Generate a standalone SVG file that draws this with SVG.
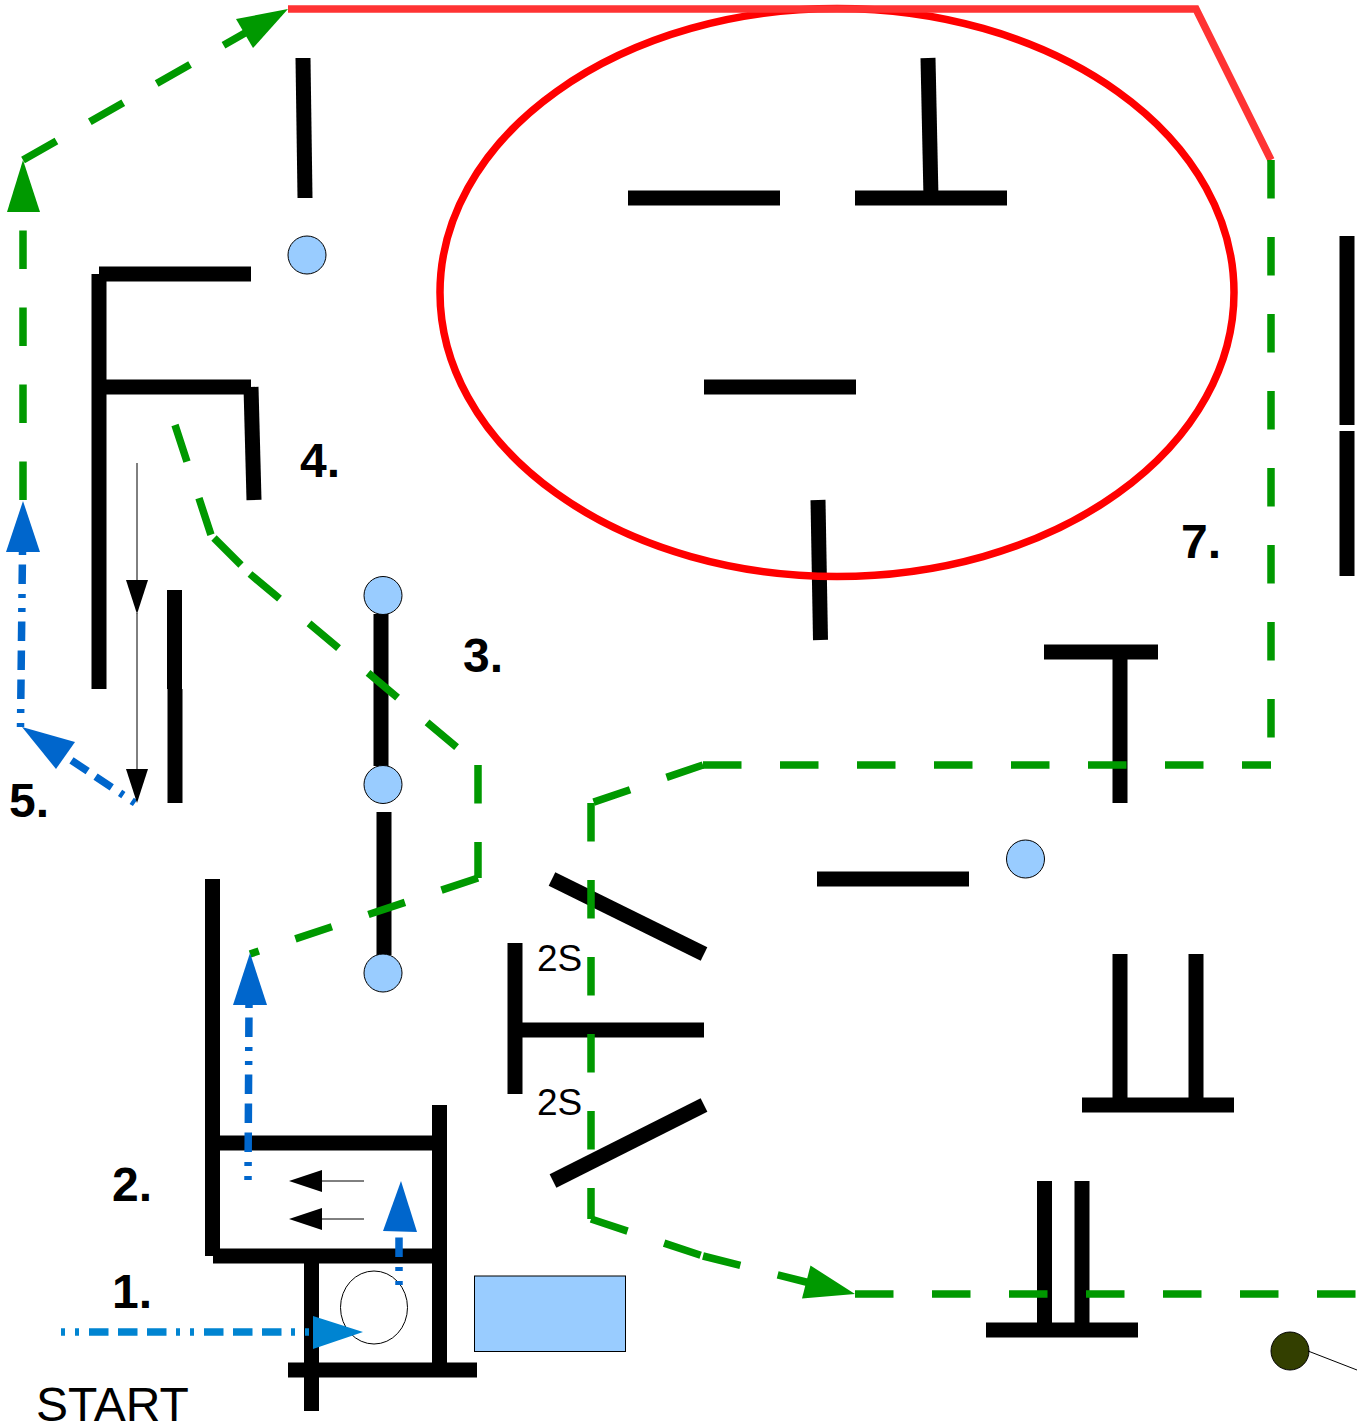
<svg xmlns="http://www.w3.org/2000/svg" width="1357" height="1422" viewBox="0 0 1357 1422">
<style>
.wall{fill:none;stroke:#000;stroke-width:15}
.thin{fill:none;stroke:#000;stroke-width:1}
.ah{fill:#000}
.green{fill:none;stroke:#009900;stroke-width:7.500;stroke-dasharray:38.5 38.500}
.greenh{fill:#009900}
.blue{fill:none;stroke:#0066cc;stroke-width:7.500;stroke-dasharray:4 10 4 10 19.5 9.5 19.5 9.5 19.5 9.5}
.blueh{fill:#0066cc}
.red{fill:none;stroke:#ff3333;stroke-width:7.500}
.dot{fill:#99ccff;stroke:#000;stroke-width:1}
.num{font-family:"Liberation Sans",Arial,sans-serif;font-weight:700;font-size:48px;fill:#000}
.lab{font-family:"Liberation Sans",Arial,sans-serif;font-size:37px;fill:#000}
.start{font-family:"Liberation Sans",Arial,sans-serif;font-size:48px;fill:#000}
</style>
<g id="walls">
<path class="wall" d="M303,58L305,198"/>
<path class="wall" d="M99,689V274"/>
<path class="wall" d="M99,274H251"/>
<path class="wall" d="M99,387H251"/>
<path class="wall" d="M251,387L254,500"/>
<path class="wall" d="M174.500,590V689"/>
<path class="wall" d="M175,689V803"/>
<path class="wall" d="M628,198H780"/>
<path class="wall" d="M855,198H1007"/>
<path class="wall" d="M928,58L931,198"/>
<path class="wall" d="M704,387H856"/>
<path class="wall" d="M818,500L820.500,640"/>
<path class="wall" d="M1347,236V425"/>
<path class="wall" d="M1347,431V576"/>
<path class="wall" d="M381,614V766"/>
<path class="wall" d="M384,812V955"/>
<path class="wall" d="M1044,652H1158"/>
<path class="wall" d="M1120,652V803"/>
<path class="wall" d="M817,879H969"/>
<path class="wall" d="M552,879L704,954"/>
<path class="wall" d="M515,943V1094"/>
<path class="wall" d="M515,1030H704"/>
<path class="wall" d="M553,1181L704,1105"/>
<path class="wall" d="M1120,954V1105"/>
<path class="wall" d="M1196,954V1105"/>
<path class="wall" d="M1082,1105H1234"/>
<path class="wall" d="M1044.500,1181V1330"/>
<path class="wall" d="M1082,1181V1330"/>
<path class="wall" d="M986,1330H1138"/>
<path class="wall" d="M212.500,879V1256"/>
<path class="wall" d="M213,1143H440"/>
<path class="wall" d="M439.500,1105V1256"/>
<path class="wall" d="M213,1256H440"/>
<path class="wall" d="M311.500,1256V1411"/>
<path class="wall" d="M439.500,1256V1370"/>
<path class="wall" d="M288,1370H477"/>
</g>
<g id="circles">
<circle class="dot" cx="307" cy="255" r="19"/>
<circle class="dot" cx="383" cy="595.500" r="19"/>
<circle class="dot" cx="383" cy="784.500" r="19"/>
<circle class="dot" cx="383" cy="973" r="19"/>
<circle class="dot" cx="1025.500" cy="859" r="19"/>
<circle cx="1290" cy="1351" r="19" fill="#333f00" stroke="#000"/>
<ellipse cx="374" cy="1307.500" rx="33.500" ry="36.500" fill="none" stroke="#000" stroke-width="1"/>
<rect x="474.500" y="1276" width="151" height="75.500" fill="#99ccff" stroke="#000" stroke-width="1"/>
</g>
<g id="connectors">
<path class="thin" d="M1308,1351L1357,1370"/>
<ellipse cx="837" cy="292.500" rx="397" ry="284" fill="none" stroke="#ff0000" stroke-width="7.500"/>
<path class="red" d="M288,9H1196L1271,160"/>
<path class="green" d="M1271,160V765"/>
<path class="green" d="M703,765H1271"/>
<path class="green" d="M703,765L591,803"/>
<path class="green" d="M591,803V1219"/>
<path class="green" d="M591,1219L703,1256"/>
<path class="green" d="M703,1256L810,1283"/>
<path class="green" d="M855,1294H1357"/>
<path class="green" d="M175,425L212,538"/>
<path class="green" d="M214,538L241,565"/>
<path class="green" d="M250,574L478,765"/>
<path class="green" d="M478,765V878"/>
<path class="green" d="M478,878L250,954"/>
<path class="green" d="M23,500V212"/>
<path class="green" d="M23,160L245,33"/>
<polygon class="greenh" points="288,9 253,48 236,19"/>
<polygon class="greenh" points="23,160 7,212 40,212"/>
<polygon class="greenh" points="855,1294 802,1298.500 810.500,1265.500"/>
<path class="blue" d="M135,803L65,756"/>
<path class="blue" d="M20.500,727L22.500,552"/>
<polygon class="blueh" points="22,727 75,742 56,769"/>
<polygon class="blueh" points="23,501 6,552 40,552"/>
<path class="blue" d="M248,1180L249,1005"/>
<polygon class="blueh" points="250,953 233,1005 267,1005"/>
<path class="blue" d="M399,1285V1232"/>
<polygon class="blueh" points="401,1181 383,1231 417,1232"/>
<path d="M61,1332H313" fill="none" stroke="#0084d1" stroke-width="7.500" stroke-dasharray="4 10 4 10 19.500 9.500 19.500 9.500 19.500 9.500"/>
<polygon fill="#0084d1" points="363,1332 313,1316 313,1349"/>
<path class="thin" d="M137,463V590"/>
<path class="thin" d="M137,613V780"/>
<polygon class="ah" points="137,614 126,580 148,580"/>
<polygon class="ah" points="137,803 126,769 148,769"/>
<path class="thin" d="M322,1181H364"/>
<path class="thin" d="M322,1219H364"/>
<polygon class="ah" points="289,1181 322,1170 322,1192"/>
<polygon class="ah" points="289,1219 322,1208 322,1230"/>
</g>
<g id="labels">
<text class="num" x="300" y="477">4.</text>
<text class="num" x="463" y="672">3.</text>
<text class="num" x="9" y="817">5.</text>
<text class="num" x="1181" y="558">7.</text>
<text class="num" x="112" y="1201">2.</text>
<text class="num" x="112" y="1308">1.</text>
<text class="lab" x="537" y="971">2S</text>
<text class="lab" x="537" y="1115">2S</text>
<text class="start" x="36" y="1421">START</text>
</g>
</svg>
